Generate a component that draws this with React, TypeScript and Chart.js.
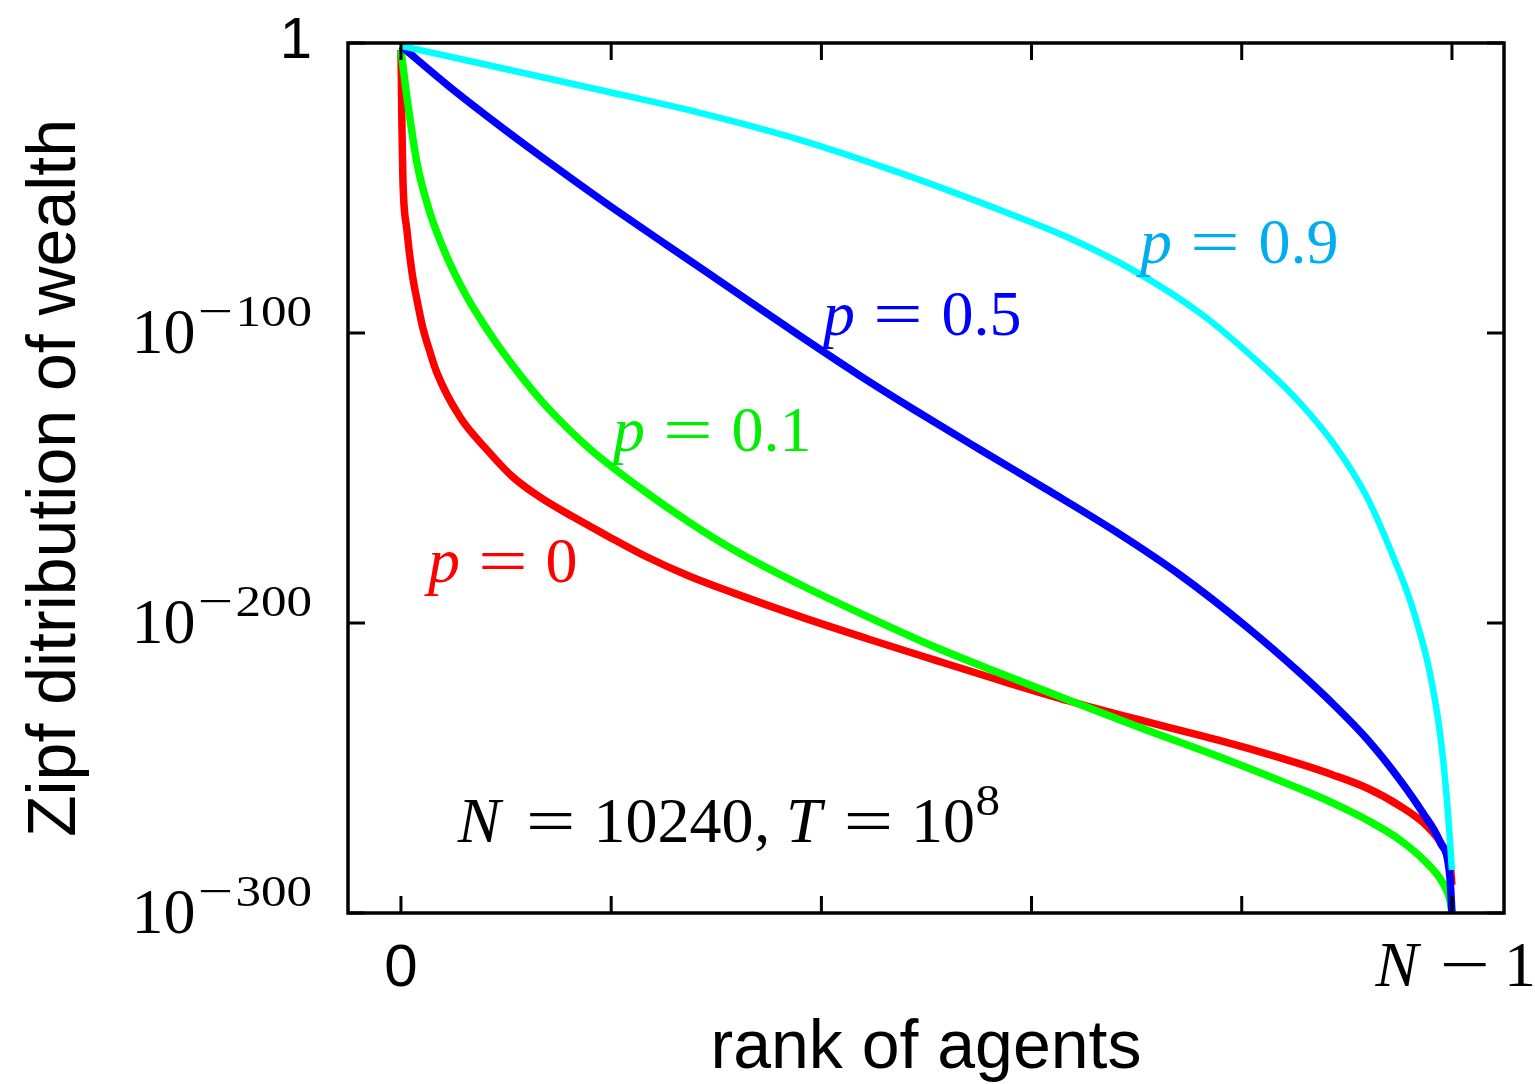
import { useEffect, useRef } from 'react';
import { Chart, registerables } from 'chart.js';

Chart.register(...registerables);

// ---------- data (rank of agent, log10 of Zipf wealth) ----------
const N_AGENTS = 10240;
const X_TICK_VALUES = [0, 2048, 4096, 6143, 8191, 10239];
const X_TICK_LABELS = ['0', '', '', '', '', 'N − 1'];
const Y_TICK_VALUES = [0, -100, -200, -300];
const Y_TICK_LABELS = ['1', '10^-100', '10^-200', '10^-300'];

// p = 0
const RANK_P0 = [0, 10, 19, 58, 107, 156, 214, 283, 351, 575, 838, 1091, 1354, 1676, 2007, 2377, 2806, 3244, 3897, 4550, 5202, 5855, 6508, 7160, 7813, 8271, 8758, 9080, 9411, 9732, 9995, 10151, 10219, 10239];
const LOG_P0 = [-2.4, -30.0, -47.2, -64.5, -79.0, -88.6, -98.3, -106.6, -113.8, -129.0, -140.3, -149.7, -156.6, -163.4, -169.9, -176.9, -183.8, -189.7, -197.9, -205.5, -212.8, -220.0, -226.9, -233.1, -239.0, -243.4, -248.6, -252.4, -256.9, -263.1, -270.0, -276.9, -282.4, -290.3];

// p = 0.1
const RANK_P1 = [0, 58, 156, 283, 448, 643, 799, 964, 1208, 1422, 1841, 2328, 2806, 3244, 3897, 4550, 5202, 5855, 6508, 7160, 8027, 8758, 9080, 9411, 9732, 9995, 10151, 10219, 10239];
const LOG_P1 = [-2.4, -18.6, -41.4, -58.6, -73.8, -87.6, -96.6, -105.2, -116.6, -125.5, -140.0, -153.4, -165.2, -174.8, -186.9, -197.9, -208.3, -217.6, -226.6, -235.5, -246.9, -257.2, -262.1, -267.9, -274.8, -282.8, -289.7, -295.5, -300.0];

// p = 0.5
const RANK_P5 = [0, 477, 964, 1452, 1939, 2591, 3234, 3887, 4462, 4988, 5631, 6284, 6937, 7589, 8242, 8758, 9080, 9411, 9732, 9956, 10122, 10219, 10239];
const LOG_P5 = [-1.0, -15.2, -28.6, -41.4, -53.8, -69.7, -85.2, -101.0, -114.5, -126.2, -140.0, -153.8, -167.9, -183.4, -201.4, -217.2, -227.9, -240.0, -254.1, -265.5, -275.5, -287.6, -300.0];

// p = 0.9
const RANK_P9 = [0, 1939, 2913, 3887, 4861, 5835, 6488, 7131, 7784, 8437, 8758, 9080, 9411, 9732, 9830, 9927, 10024, 10122, 10190, 10239];
const LOG_P9 = [-1.0, -16.2, -24.1, -33.4, -44.8, -57.6, -66.9, -78.3, -93.1, -112.8, -124.1, -137.9, -156.6, -182.8, -192.1, -203.4, -217.2, -237.9, -261.0, -285.2];

const SERIES_NAMES = ['p = 0', 'p = 0.1', 'p = 0.5', 'p = 0.9'];
const SERIES_COLORS = ['#ff0000', '#00ff00', '#0000ff', '#00ffff'];

// ---------- typography ----------
const SERIF = '"Liberation Serif", "DejaVu Serif", "Times New Roman", serif';
const SANS = '"Liberation Sans", Arial, Helvetica, sans-serif';
const MATH_SIZE = 64;

type Item = { t?: string; w: number; size?: number; it?: boolean; sx?: number; dy?: number };

function mathWidth(items: Item[], base: number) {
  return items.reduce((a, it) => a + it.w * base * (it.size || 1), 0);
}

function drawMath(ctx: CanvasRenderingContext2D, items: Item[], x: number, y: number, base: number, color: string, align: 'left' | 'right' | 'center') {
  const total = mathWidth(items, base);
  let cx = align === 'left' ? x : align === 'right' ? x - total : x - total / 2;
  ctx.fillStyle = color;
  ctx.textBaseline = 'alphabetic';
  ctx.textAlign = 'left';
  for (const it of items) {
    const s = base * (it.size || 1);
    const slot = it.w * s;
    if (it.t) {
      ctx.font = `${it.it ? 'italic ' : ''}${s}px ${SERIF}`;
      const sx = it.sx || 1;
      const mw = ctx.measureText(it.t).width * sx;
      ctx.save();
      ctx.translate(cx + (slot - mw) / 2, y + (it.dy || 0) * base);
      ctx.scale(sx, 1);
      ctx.fillText(it.t, 0, 0);
      ctx.restore();
    }
    cx += slot;
  }
}

const EQ: Item = { t: '=', w: 0.778, sx: 1.38 };
const THICK: Item = { w: 0.278 };

function pLabel(val: string): Item[] {
  return [{ t: 'p', it: true, w: 0.503 }, THICK, EQ, THICK, { t: val, w: val.length === 1 ? 0.5 : 1.278 }];
}

const N_LABEL: Item[] = [
  { t: 'N', it: true, w: 0.903 }, THICK, EQ, THICK, { t: String(N_AGENTS), w: 2.5 },
  { t: ',', w: 0.278 }, { w: 0.167 }, { t: 'T', it: true, w: 0.684 }, THICK, EQ, THICK,
  { t: '10', w: 1.0 }, { t: '8', w: 0.569, size: 0.7, sx: 1.1, dy: -0.42 },
];

// annotation anchors (left edge, baseline) in data units
const ANNOTATIONS = [
  { items: pLabel('0.9'), rank: 7200, log: -75.9, color: '#00aeef' },
  { items: pLabel('0.5'), rank: 4111, log: -100.7, color: '#0000ff' },
  { items: pLabel('0.1'), rank: 2065, log: -140.7, color: '#00ee00' },
  { items: pLabel('0'), rank: 263, log: -185.9, color: '#ff0000' },
  { items: N_LABEL, rank: 480, log: -275.5, color: '#000000' },
];

function powerItems(label: string): Item[] {
  const [b, e] = label.split('^');
  const exp = e.replace('-', '');
  return [
    { t: b, w: 0.5 * b.length },
    { t: '−', w: 0.893, size: 0.7, sx: 1.4, dy: -0.42 },
    { t: exp, w: 0.569 * exp.length, size: 0.7, sx: 1.14, dy: -0.42 },
  ];
}

const frameAndLabels = {
  id: 'frameAndLabels',
  afterDraw(chart: any) {
    const { ctx, chartArea, scales } = chart;
    const { left, right, top, bottom } = chartArea;
    const xs = scales.x;
    const ys = scales.y;
    ctx.save();
    ctx.strokeStyle = '#000';
    ctx.lineWidth = 3.5;
    ctx.strokeRect(left, top, right - left, bottom - top);
    const TL = 17;
    ctx.lineWidth = 3;
    ctx.beginPath();
    X_TICK_VALUES.forEach((v) => {
      const px = xs.getPixelForValue(v);
      ctx.moveTo(px, bottom); ctx.lineTo(px, bottom - TL);
      ctx.moveTo(px, top); ctx.lineTo(px, top + TL);
    });
    Y_TICK_VALUES.forEach((v) => {
      const py = ys.getPixelForValue(v);
      ctx.moveTo(left, py); ctx.lineTo(left + TL, py);
      ctx.moveTo(right, py); ctx.lineTo(right - TL, py);
    });
    ctx.stroke();

    // y tick labels
    Y_TICK_VALUES.forEach((v, i) => {
      const py = ys.getPixelForValue(v);
      const lab = Y_TICK_LABELS[i];
      if (lab.includes('^')) {
        drawMath(ctx, powerItems(lab), left - 36, py + 20, MATH_SIZE, '#000', 'right');
      } else {
        ctx.font = `58px ${SANS}`;
        ctx.fillStyle = '#000';
        ctx.textAlign = 'right';
        ctx.textBaseline = 'alphabetic';
        ctx.fillText(lab, left - 36, py + 15);
      }
    });

    // x tick labels
    X_TICK_VALUES.forEach((v, i) => {
      const lab = X_TICK_LABELS[i];
      if (!lab) return;
      const px = xs.getPixelForValue(v);
      if (lab === '0') {
        ctx.font = `60px ${SANS}`;
        ctx.fillStyle = '#000';
        ctx.textAlign = 'center';
        ctx.textBaseline = 'alphabetic';
        ctx.fillText(lab, px, bottom + 73);
      } else {
        const items: Item[] = [
          { t: 'N', it: true, w: 0.903 }, { w: 0.222 }, { t: '−', w: 0.778, sx: 1.4 }, { w: 0.222 }, { t: '1', w: 0.5 },
        ];
        drawMath(ctx, items, px, bottom + 73, MATH_SIZE, '#000', 'center');
      }
    });

    // annotations
    ANNOTATIONS.forEach((a) => {
      drawMath(ctx, a.items, xs.getPixelForValue(a.rank), ys.getPixelForValue(a.log), MATH_SIZE, a.color, 'left');
    });

    // axis titles
    ctx.fillStyle = '#000';
    ctx.font = `68px ${SANS}`;
    ctx.textAlign = 'center';
    ctx.textBaseline = 'alphabetic';
    ctx.fillText('rank of agents', (left + right) / 2, bottom + 155);
    ctx.save();
    ctx.translate(left - 273, (top + bottom) / 2);
    ctx.rotate(-Math.PI / 2);
    ctx.fillText('Zipf ditribution of wealth', 0, 0);
    ctx.restore();
    ctx.restore();
  },
};

function toPoints(xs: number[], ys: number[]) {
  return xs.map((x, i) => ({ x, y: ys[i] }));
}

export default function App() {
  const ref = useRef<HTMLCanvasElement | null>(null);
  useEffect(() => {
    if (!ref.current) return;
    const ranks = [RANK_P0, RANK_P1, RANK_P5, RANK_P9];
    const logs = [LOG_P0, LOG_P1, LOG_P5, LOG_P9];
    const chart = new Chart(ref.current, {
      type: 'line',
      data: {
        datasets: ranks.map((r, i) => ({
          label: SERIES_NAMES[i],
          data: toPoints(r, logs[i]),
          borderColor: SERIES_COLORS[i],
          backgroundColor: SERIES_COLORS[i],
          borderWidth: i === 3 ? 6.5 : 7.5,
          pointRadius: 0,
          fill: false,
          order: 4 - i,
          cubicInterpolationMode: 'monotone',
        })),
      },
      options: {
        responsive: false,
        animation: false,
        layout: { padding: { top: 43, right: 31, left: 0, bottom: 0 } },
        plugins: { legend: { display: false }, tooltip: { enabled: false } },
        scales: {
          x: {
            type: 'linear',
            min: -516,
            max: 10746,
            grid: { display: false },
            border: { display: false },
            ticks: { display: false },
            afterBuildTicks: (s: any) => { s.ticks = X_TICK_VALUES.map((v) => ({ value: v })); },
            afterFit: (s: any) => { s.height = 171; },
          },
          y: {
            type: 'linear',
            min: -300,
            max: 0,
            grid: { display: false },
            border: { display: false },
            ticks: { display: false },
            afterBuildTicks: (s: any) => { s.ticks = Y_TICK_VALUES.map((v) => ({ value: v })); },
            afterFit: (s: any) => { s.width = 348; },
          },
        },
      } as any,
      plugins: [frameAndLabels],
    });
    return () => chart.destroy();
  }, []);
  return (
    <canvas
      ref={ref}
      width={1535}
      height={1084}
      style={{ display: 'block', position: 'absolute', left: 0, top: 0 }}
    />
  );
}
